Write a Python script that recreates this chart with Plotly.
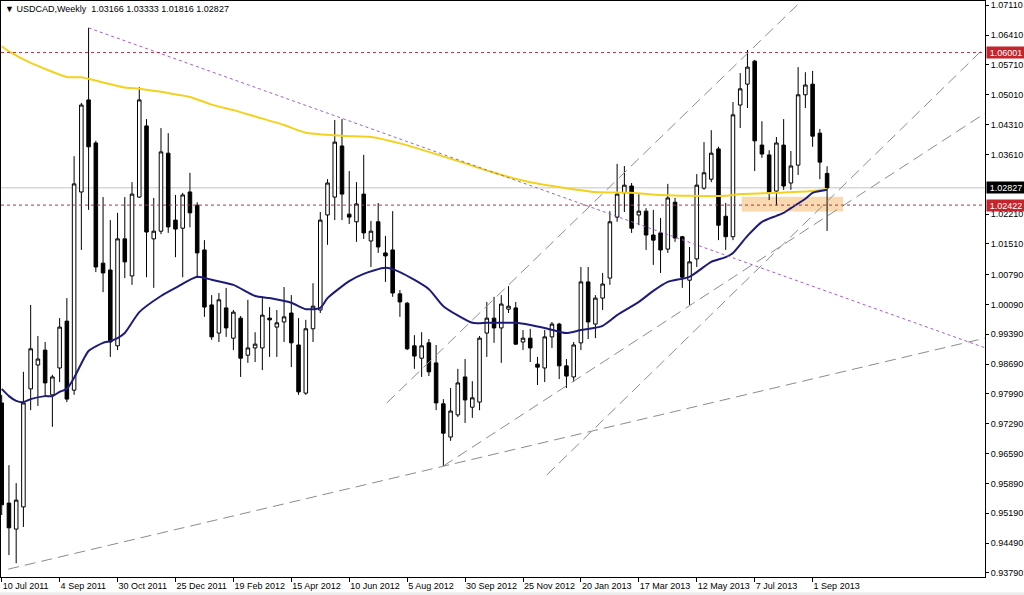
import plotly.graph_objects as go

# ---------------- data ----------------
bar_index = list(range(115))  # weekly bars, index 0 = week of 10 Jul 2011

open_ = [0.9778, 0.9543, 0.9482, 0.9534, 0.9811, 0.9867, 0.9902, 0.9797, 0.9860, 0.9970,
         0.9808, 1.0273, 1.0489, 1.0388, 1.0106, 1.0090, 0.9912, 1.0163, 1.0076, 1.0261,
         1.0428, 1.0163, 1.0181, 1.0364, 1.0207, 1.0188, 1.0273, 1.0242, 1.0137, 1.0008,
         0.9942, 1.0001, 0.9930, 0.9977, 0.9890, 0.9907, 0.9907, 0.9977, 0.9956, 0.9968,
         0.9989, 0.9914, 0.9801, 0.9952, 0.9996, 1.0219, 1.0261, 1.0381, 1.0221, 1.0203,
         1.0268, 1.0158, 1.0203, 1.0130, 1.0137, 1.0034, 1.0012, 0.9912, 0.9883, 0.9919,
         0.9872, 0.9776, 0.9698, 0.9750, 0.9839, 0.9768, 0.9780, 0.9942, 0.9977, 0.9954,
         0.9998, 1.0001, 0.9921, 0.9930, 0.9869, 0.9860, 0.9933, 0.9963, 0.9865, 0.9839,
         0.9919, 1.0062, 0.9963, 1.0024, 1.0071, 1.0214, 1.0271, 1.0287, 1.0219, 1.0228,
         1.0172, 1.0177, 1.0139, 1.0249, 1.0168, 1.0066, 1.0116, 1.0282, 1.0303, 1.0374,
         1.0216, 1.0168, 1.0477, 1.0526, 1.0580, 1.0383, 1.0360, 1.0275, 1.0383, 1.0294,
         1.0336, 1.0501, 1.0526, 1.0411, 1.03166]
high = [0.9797, 0.9632, 0.9590, 0.9851, 1.0008, 0.9935, 0.9921, 0.9844, 0.9977, 1.0024,
        1.0357, 1.0482, 1.0658, 1.0393, 1.0261, 1.0207, 1.0224, 1.0261, 1.0296, 1.0519,
        1.0444, 1.0259, 1.0423, 1.0411, 1.0266, 1.0271, 1.0318, 1.0249, 1.0160, 1.0031,
        1.0036, 1.0048, 0.9996, 0.9982, 1.0020, 0.9944, 1.0027, 1.0003, 0.9996, 1.0050,
        1.0031, 0.9977, 0.9973, 1.0059, 1.0226, 1.0303, 1.0442, 1.0444, 1.0322, 1.0296,
        1.0360, 1.0205, 1.0247, 1.0170, 1.0228, 1.0043, 1.0015, 0.9937, 0.9944, 0.9928,
        0.9914, 0.9787, 0.9813, 0.9858, 0.9881, 0.9829, 0.9935, 1.0015, 1.0027, 1.0031,
        1.0052, 1.0015, 0.9949, 0.9952, 0.9886, 0.9949, 0.9968, 0.9966, 0.9881, 0.9921,
        1.0097, 1.0097, 1.0031, 1.0083, 1.0228, 1.0339, 1.0334, 1.0294, 1.0268, 1.0235,
        1.0231, 1.0212, 1.0292, 1.0259, 1.0170, 1.0144, 1.0315, 1.0390, 1.0418, 1.0379,
        1.0247, 1.0484, 1.0552, 1.0606, 1.0583, 1.0439, 1.0371, 1.0402, 1.0444, 1.0369,
        1.0566, 1.0554, 1.0557, 1.0421, 1.03333]
low = [0.9515, 0.9421, 0.9402, 0.9487, 0.9761, 0.9771, 0.9792, 0.9722, 0.9827, 0.9780,
       0.9797, 1.0137, 1.0231, 1.0085, 1.0038, 0.9886, 0.9902, 1.0071, 1.0055, 1.0259,
       1.0073, 1.0048, 1.0174, 1.0177, 1.0120, 1.0073, 1.0190, 1.0071, 0.9980, 0.9926,
       0.9921, 0.9933, 0.9902, 0.9839, 0.9872, 0.9874, 0.9855, 0.9886, 0.9886, 0.9921,
       0.9862, 0.9797, 0.9797, 0.9921, 0.9989, 1.0149, 1.0207, 1.0207, 1.0198, 1.0156,
       1.0163, 1.0097, 1.0130, 1.0062, 1.0027, 0.9980, 0.9902, 0.9858, 0.9839, 0.9841,
       0.9761, 0.9630, 0.9689, 0.9745, 0.9731, 0.9743, 0.9761, 0.9886, 0.9919, 0.9872,
       0.9989, 0.9914, 0.9902, 0.9874, 0.9820, 0.9827, 0.9907, 0.9834, 0.9813, 0.9827,
       0.9902, 0.9928, 0.9930, 0.9996, 1.0055, 1.0203, 1.0226, 1.0177, 1.0195, 1.0137,
       1.0102, 1.0083, 1.0130, 1.0156, 1.0048, 1.0008, 1.0097, 1.0278, 1.0296, 1.0160,
       1.0137, 1.0160, 1.0423, 1.0470, 1.0322, 1.0353, 1.0254, 1.0242, 1.0278, 1.0278,
       1.0313, 1.0470, 1.0379, 1.0303, 1.01816]
close = [0.9539, 0.9485, 0.9550, 0.9778, 0.9905, 0.9881, 0.9825, 0.9839, 0.9956, 0.9787,
         1.0292, 1.0477, 1.0379, 1.0097, 1.0083, 0.9921, 1.0163, 1.0109, 1.0268, 1.0489,
         1.0179, 1.0181, 1.0367, 1.0191, 1.0186, 1.0266, 1.0224, 1.0130, 1.0003, 0.9933,
         1.0020, 0.9954, 0.9991, 0.9883, 0.9907, 0.9916, 0.9984, 0.9973, 0.9966, 0.9980,
         0.9919, 0.9804, 0.9952, 1.0005, 1.0207, 1.0294, 1.0390, 1.0268, 1.0214, 1.0245,
         1.0177, 1.0181, 1.0144, 1.0123, 1.0036, 1.0015, 0.9905, 0.9888, 0.9912, 0.9851,
         0.9778, 0.9707, 0.9759, 0.9825, 0.9785, 0.9790, 0.9930, 0.9977, 0.9954, 1.0010,
         1.0005, 0.9916, 0.9930, 0.9907, 0.9862, 0.9933, 0.9963, 0.9865, 0.9841, 0.9914,
         1.0062, 0.9968, 1.0024, 1.0057, 1.0203, 1.0268, 1.0289, 1.0188, 1.0228, 1.0172,
         1.0160, 1.0137, 1.0259, 1.0165, 1.0073, 1.0109, 1.0289, 1.0318, 1.0364, 1.0195,
         1.0168, 1.0454, 1.0515, 1.0566, 1.0393, 1.0362, 1.0271, 1.0388, 1.0287, 1.0334,
         1.0501, 1.0524, 1.0404, 1.0343, 1.02827]

tick_index = [0, 8, 16, 24, 32, 40, 48, 56, 64, 72, 80, 88, 96, 104, 112]
tick_dates = ["10 Jul 2011", "4 Sep 2011", "30 Oct 2011", "25 Dec 2011", "19 Feb 2012",
              "15 Apr 2012", "10 Jun 2012", "5 Aug 2012", "30 Sep 2012", "25 Nov 2012",
              "20 Jan 2013", "17 Mar 2013", "12 May 2013", "7 Jul 2013", "1 Sep 2013"]

price_ticks = [1.0711, 1.0641, 1.0571, 1.0501, 1.0431, 1.0361, 1.0221, 1.0151,
               1.0079, 1.0009, 0.9939, 0.9869, 0.9799, 0.9729, 0.9659, 0.9589, 0.9519,
               0.9449, 0.9379]
price_tick_text = ["1.07110", "1.06410", "1.05710", "1.05010", "1.04310", "1.03610",
                   "1.02210", "1.01510", "1.00790", "1.00090", "0.99390",
                   "0.98690", "0.97990", "0.97290", "0.96590", "0.95890", "0.95190",
                   "0.94490", "0.93790"]

# long moving average (yellow)
yellow_ma_index = [0, 1, 4, 9, 11, 14, 17, 19, 23, 26, 29, 32, 35, 39, 42, 46, 48, 51, 55,
                   59, 64, 68, 73, 78, 82, 87, 91, 95, 100, 102, 107, 112, 114]
yellow_ma_value = [1.0615, 1.0603, 1.0576, 1.0543, 1.0542, 1.0530, 1.0518, 1.0515, 1.0505,
                   1.0496, 1.0478, 1.0465, 1.0450, 1.0430, 1.0412, 1.0406, 1.0404, 1.0402,
                   1.0387, 1.0367, 1.0340, 1.0318, 1.0296, 1.0282, 1.0273, 1.0271, 1.0266,
                   1.0264, 1.0264, 1.0268, 1.0271, 1.0275, 1.0280]

# shorter moving average (navy)
blue_ma_index = [0, 1, 2, 3, 4, 6, 7, 8, 9, 10, 12, 14, 15, 16, 17, 19, 22, 24, 27, 29, 32,
                 35, 37, 40, 42, 44, 45, 48, 50, 53, 55, 59, 61, 65, 67, 71, 73, 75, 78, 80,
                 83, 85, 88, 90, 92, 95, 98, 100, 101, 103, 105, 107, 108, 109, 111, 112, 114]
blue_ma_value = [0.9811, 0.9794, 0.9783, 0.9780, 0.9787, 0.9794, 0.9794, 0.9804, 0.9811,
                 0.9837, 0.9900, 0.9919, 0.9923, 0.9930, 0.9942, 0.9991, 1.0029, 1.0048,
                 1.0074, 1.0067, 1.0055, 1.0029, 1.0024, 1.0013, 0.9998, 1.0001, 1.0024,
                 1.0064, 1.0081, 1.0095, 1.0085, 1.0045, 1.0005, 0.9966, 0.9966, 0.9966,
                 0.9961, 0.9954, 0.9942, 0.9949, 0.9959, 0.9984, 1.0015, 1.0041, 1.0062,
                 1.0074, 1.0109, 1.0120, 1.0130, 1.0170, 1.0203, 1.0217, 1.0224, 1.0235,
                 1.0257, 1.0271, 1.0278]

# horizontal levels
level_prices = [1.06001, 1.02422]
level_labels = ["1.06001", "1.02422"]
last_price = 1.02827
last_label = "1.02827"

# hand-drawn trend lines: (bar index pair, price pair)
downtrend_index = [12, 140]
downtrend_price = [1.0658, 0.9882]
trend_lines = [
    ([0.9, 140], [0.9388, 0.9947]),
    ([61, 140], [0.9630, 1.0504]),
    ([53.2, 115], [0.9778, 1.0796]),
    ([75.3, 140], [0.9609, 1.0682]),
]
zone_index = [102.2, 116.2]
zone_price = [1.0227, 1.0262]

title_text = "▼ USDCAD,Weekly  1.03166 1.03333 1.01816 1.02827"

# ---------------- figure ----------------
FONT = "Liberation Sans, Arial, sans-serif"
fig = go.Figure()

fig.add_trace(go.Candlestick(
    x=bar_index, open=open_, high=high, low=low, close=close,
    increasing=dict(line=dict(color="black", width=1), fillcolor="white"),
    decreasing=dict(line=dict(color="black", width=1), fillcolor="black"),
    whiskerwidth=0, showlegend=False, hoverinfo="skip",
))

fig.add_trace(go.Scatter(x=yellow_ma_index, y=yellow_ma_value, mode="lines",
                         line=dict(color="#f2d21e", width=2, shape="spline", smoothing=0.6),
                         showlegend=False, hoverinfo="skip"))
fig.add_trace(go.Scatter(x=blue_ma_index, y=blue_ma_value, mode="lines",
                         line=dict(color="#1c1c78", width=2, shape="spline", smoothing=0.6),
                         showlegend=False, hoverinfo="skip"))

fig.add_trace(go.Scatter(x=downtrend_index, y=downtrend_price, mode="lines",
                         line=dict(color="#a060c0", width=1, dash="dot"),
                         showlegend=False, hoverinfo="skip"))
for xs, ys in trend_lines:
    fig.add_trace(go.Scatter(x=xs, y=ys, mode="lines",
                             line=dict(color="#8c8c8c", width=1, dash="11px,6px"),
                             showlegend=False, hoverinfo="skip"))

shapes = []
# support zone
shapes.append(dict(type="rect", xref="x", yref="y", x0=zone_index[0], x1=zone_index[1],
                   y0=zone_price[0], y1=zone_price[1], fillcolor="rgba(247,205,150,0.75)",
                   line=dict(width=0), layer="below"))
# last price line
shapes.append(dict(type="line", xref="paper", yref="y", x0=0, x1=1, y0=last_price,
                   y1=last_price, line=dict(color="#c4c4c4", width=1), layer="below"))
# dotted levels
for lv in level_prices:
    shapes.append(dict(type="line", xref="paper", yref="y", x0=0, x1=1, y0=lv, y1=lv,
                       line=dict(color="#a03848", width=1, dash="dot")))
# bottom status strip
shapes.append(dict(type="rect", xref="paper", yref="paper", x0=-0.002, x1=1.04,
                   y0=-0.045, y1=-0.0265, fillcolor="#ececec", line=dict(width=0)))

annotations = []
for lv, txt in zip(level_prices, level_labels):
    annotations.append(dict(xref="paper", yref="y", x=1, y=lv, xanchor="left", xshift=1,
                            text=txt, showarrow=False, bgcolor="#c4242c", borderpad=0,
                            width=38, height=11, align="center",
                            font=dict(family=FONT, size=9, color="white")))
annotations.append(dict(xref="paper", yref="y", x=1, y=last_price, xanchor="left", xshift=1,
                        text=last_label, showarrow=False, bgcolor="black", borderpad=0,
                        width=38, height=11, align="center",
                        font=dict(family=FONT, size=9, color="white")))
annotations.append(dict(xref="paper", yref="paper", x=0, y=1, xanchor="left", yanchor="top",
                        xshift=2, yshift=-1, text=title_text, showarrow=False,
                        font=dict(family=FONT, size=9, color="black")))

fig.update_layout(
    template="none",
    width=1024, height=595,
    margin=dict(l=1, r=39, t=1, b=18, autoexpand=False),
    paper_bgcolor="white", plot_bgcolor="white",
    font=dict(family=FONT, size=9, color="black"),
    shapes=shapes, annotations=annotations,
    showlegend=False,
    xaxis=dict(range=[-0.097, 135.81], showgrid=False, zeroline=False,
               showline=True, mirror=True, linecolor="black", linewidth=1,
               ticks="outside", ticklen=4, tickcolor="black", tickangle=0,
               tickvals=tick_index, ticktext=tick_dates,
               ticklabelposition="outside right", automargin=False,
               tickfont=dict(family=FONT, size=9, color="black"),
               rangeslider=dict(visible=False), fixedrange=True),
    yaxis=dict(side="right", range=[0.93696, 1.07211], showgrid=False, zeroline=False,
               showline=True, mirror=True, linecolor="black", linewidth=1,
               ticks="outside", ticklen=3, tickcolor="black", automargin=False,
               tickvals=price_ticks, ticktext=price_tick_text,
               tickfont=dict(family=FONT, size=9, color="black"), fixedrange=True),
)

fig.write_html("out.html", config={"displayModeBar": False},
               post_script="document.body.style.margin='0';document.body.style.overflow='hidden';")
